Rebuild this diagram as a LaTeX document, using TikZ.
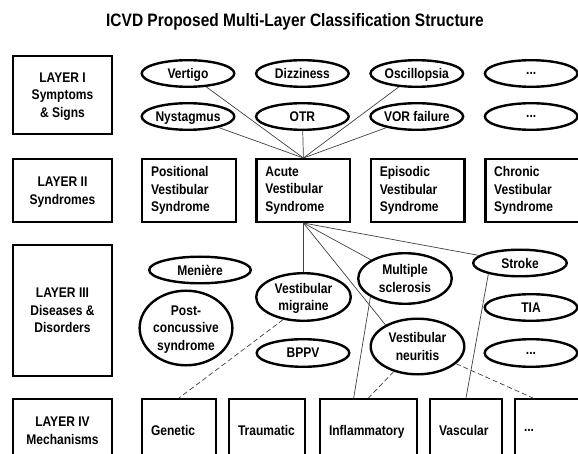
\documentclass[tikz,border=0pt]{standalone}
\usepackage{fontspec}
\setmainfont{Liberation Sans}[FakeStretch=0.86]
\usetikzlibrary{shapes.geometric,calc}
\newcommand{\moredots}{...}

\begin{document}
\begin{tikzpicture}[x=1pt,y=-1pt,
    every node/.style={font=\fontsize{14}{17.5}\selectfont\bfseries},
    layer/.style={draw,line width=2.4pt,minimum width=98.6pt,minimum height=#1,align=center,text depth=0pt},
    sign/.style={draw,ellipse,line width=2.4pt,inner sep=0pt,minimum width=92.6pt,minimum height=26.6pt,align=center,text depth=0pt},
    syndr/.style={draw,line width=2.4pt,minimum height=62.6pt,inner xsep=8.8pt,text width=76pt,align=left},
    mech/.style={draw,line width=2.4pt,minimum height=62.6pt,inner xsep=8.8pt,text width=#1,align=left,text depth=0pt},
    link/.style={black!75,line width=0.7pt},
    maybe/.style={link,dash pattern=on 5pt off 3pt}]
  \useasboundingbox (0,0) rectangle (578,454);
  \node[font=\fontsize{18}{21}\selectfont\bfseries] (title) at (295,22) {ICVD Proposed Multi-Layer Classification Structure};

  \node[layer=77.6pt] (layer1) at (62.5,95) {LAYER I\\Symptoms\\\& Signs};
  \node[layer=62.6pt] (layer2) at (62.5,190.5) {LAYER II\\Syndromes};
  \node[layer=130.6pt] (layer3) at (62.5,310.5) {LAYER III\\Diseases \&\\Disorders};
  \node[layer=62.6pt] (layer4) at (62.5,430.5) {LAYER IV\\Mechanisms};

  \foreach \t/\n [count=\i from 0] in {Vertigo/vertigo,Dizziness/dizziness,Oscillopsia/oscillopsia,\moredots/moreA}
    \node[sign] (\n) at (188+114.4*\i,73.5) {\t};
  \foreach \t/\n [count=\i from 0] in {Nystagmus/nystagmus,OTR/otr,VOR failure/vorfail,\moredots/moreB}
    \node[sign] (\n) at (188+114.4*\i,116.5) {\t};

  \foreach \t/\n [count=\i from 0] in {Positional/positional,Acute/acute,Episodic/episodic,Chronic/chronic}
    \node[syndr] (\n) at (189+114.4*\i,190.5) {\t\\Vestibular\\Syndrome};

  \node[sign,minimum width=101.6pt] (meniere) at (200,270) {Menière};
  \node[sign,minimum height=74.6pt] (postconc) at (186,328) {Post-\\concussive\\syndrome};
  \node[sign,minimum width=94.6pt,minimum height=47.6pt] (vestmig) at (303.5,297) {Vestibular\\migraine};
  \node[sign,minimum height=27.6pt] (bppv) at (303,353) {BPPV};
  \node[sign,minimum width=93.6pt,minimum height=50.6pt] (ms) at (405,278.5) {Multiple\\sclerosis};
  \node[sign,minimum width=93.6pt,minimum height=55.6pt] (vestneur) at (417.5,346.5) {Vestibular\\neuritis};
  \node[sign,minimum width=93.6pt] (stroke) at (520,263) {Stroke};
  \node[sign] (tia) at (531,307.5) {TIA};
  \node[sign,minimum height=27.6pt] (moreC) at (531,353) {\moredots};

  \node[mech=56pt] (genetic) at (179,430.5) {Genetic};
  \node[mech=58pt] (traumatic) at (267,430.5) {Traumatic};
  \node[mech=79pt] (inflam) at (368.5,430.5) {Inflammatory};
  \node[mech=54pt] (vascular) at (466,430.5) {Vascular};
  \node[mech=56pt] (moreD) at (552,430.5) {\moredots};

  \foreach \n in {vertigo,oscillopsia,nystagmus,otr,vorfail}
    \draw[link] (\n) -- (acute.north);
  \draw[link] (acute.south) -- (vestmig.north);
  \foreach \n in {ms,stroke}
    \draw[link] (acute.south) -- (\n);
  \draw[link] (acute.south) -- (vestneur.146);
  \draw[maybe] (vestmig.228) -- (genetic.north);
  \draw[link] (ms.208) -- ($(inflam.north west)!.35!(inflam.north east)$);
  \draw[maybe] (vestneur) -- (inflam.north);
  \draw[maybe] (vestneur) -- ($(moreD.north west)!.25!(moreD.north east)$);
  \draw[link] (stroke.199) -- (vascular.north);
\end{tikzpicture}
\end{document}
